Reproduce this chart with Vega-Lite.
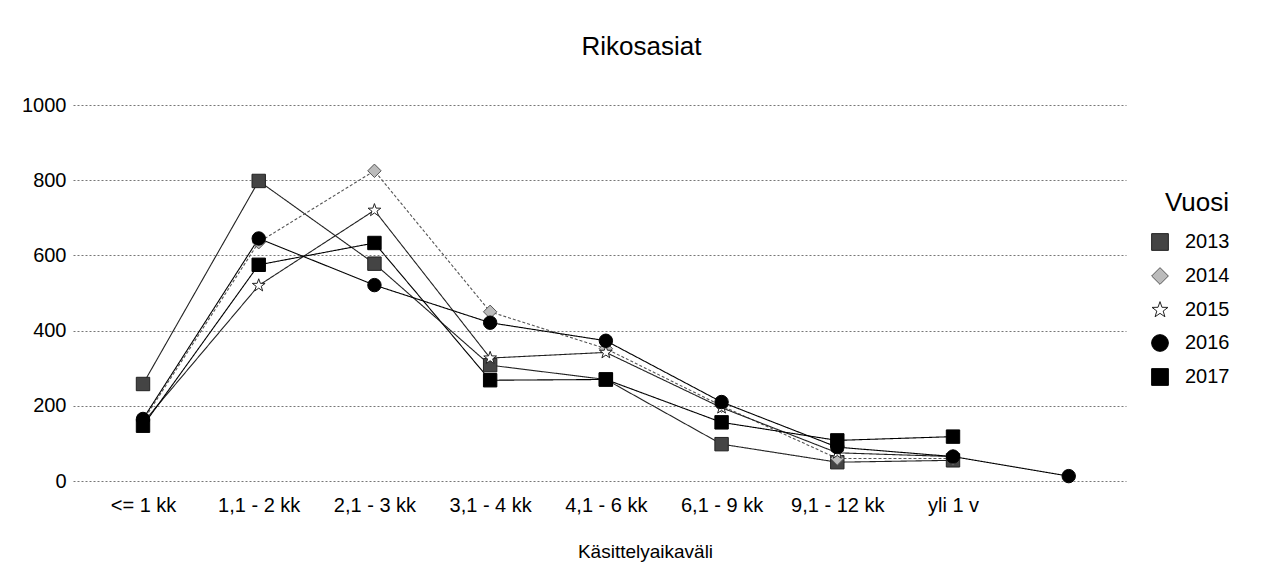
{
  "$schema": "https://vega.github.io/schema/vega-lite/v6.json",
  "width": 1053,
  "height": 376,
  "autosize": {"type": "none"},
  "padding": {"left": 73, "top": 105, "right": 140, "bottom": 81},
  "background": "white",
  "config": {
    "font": "Liberation Sans",
    "view": {"stroke": null},
    "axis": {"labelColor": "#000", "titleColor": "#000", "labelFont": "Liberation Sans", "titleFont": "Liberation Sans"},
    "legend": {
      "orient": "none",
      "legendX": 1077,
      "legendY": 85,
      "labelColor": "#000",
      "titleColor": "#000",
      "titleFontSize": 26,
      "titleFontWeight": "normal",
      "titleAnchor": "end",
      "titlePadding": 16,
      "labelFontSize": 20,
      "labelOffset": 15,
      "symbolSize": 280,
      "symbolStrokeWidth": 1,
      "rowPadding": 12,
      "padding": 0
    }
  },
  "title": {
    "text": "Rikosasiat",
    "fontSize": 26,
    "fontWeight": "normal",
    "color": "#000",
    "anchor": "middle",
    "frame": "group",
    "dx": 42,
    "offset": 35
  },
  "data": {
    "values": [
      {"Vuosi": "2013", "Kategoria": "<= 1 kk", "Arvo": 258},
      {"Vuosi": "2013", "Kategoria": "1,1 - 2 kk", "Arvo": 798},
      {"Vuosi": "2013", "Kategoria": "2,1 - 3 kk", "Arvo": 578},
      {"Vuosi": "2013", "Kategoria": "3,1 - 4 kk", "Arvo": 308},
      {"Vuosi": "2013", "Kategoria": "4,1 - 6 kk", "Arvo": 270},
      {"Vuosi": "2013", "Kategoria": "6,1 - 9 kk", "Arvo": 98},
      {"Vuosi": "2013", "Kategoria": "9,1 - 12 kk", "Arvo": 50},
      {"Vuosi": "2013", "Kategoria": "yli 1 v", "Arvo": 55},
      {"Vuosi": "2014", "Kategoria": "<= 1 kk", "Arvo": 160},
      {"Vuosi": "2014", "Kategoria": "1,1 - 2 kk", "Arvo": 635},
      {"Vuosi": "2014", "Kategoria": "2,1 - 3 kk", "Arvo": 825},
      {"Vuosi": "2014", "Kategoria": "3,1 - 4 kk", "Arvo": 450},
      {"Vuosi": "2014", "Kategoria": "4,1 - 6 kk", "Arvo": 352},
      {"Vuosi": "2014", "Kategoria": "6,1 - 9 kk", "Arvo": 200},
      {"Vuosi": "2014", "Kategoria": "9,1 - 12 kk", "Arvo": 60},
      {"Vuosi": "2014", "Kategoria": "yli 1 v", "Arvo": 60},
      {"Vuosi": "2015", "Kategoria": "<= 1 kk", "Arvo": 155},
      {"Vuosi": "2015", "Kategoria": "1,1 - 2 kk", "Arvo": 520},
      {"Vuosi": "2015", "Kategoria": "2,1 - 3 kk", "Arvo": 720},
      {"Vuosi": "2015", "Kategoria": "3,1 - 4 kk", "Arvo": 327},
      {"Vuosi": "2015", "Kategoria": "4,1 - 6 kk", "Arvo": 342},
      {"Vuosi": "2015", "Kategoria": "6,1 - 9 kk", "Arvo": 195},
      {"Vuosi": "2015", "Kategoria": "9,1 - 12 kk", "Arvo": 75},
      {"Vuosi": "2015", "Kategoria": "yli 1 v", "Arvo": 65},
      {"Vuosi": "2016", "Kategoria": "<= 1 kk", "Arvo": 165},
      {"Vuosi": "2016", "Kategoria": "1,1 - 2 kk", "Arvo": 645},
      {"Vuosi": "2016", "Kategoria": "2,1 - 3 kk", "Arvo": 521},
      {"Vuosi": "2016", "Kategoria": "3,1 - 4 kk", "Arvo": 421},
      {"Vuosi": "2016", "Kategoria": "4,1 - 6 kk", "Arvo": 373},
      {"Vuosi": "2016", "Kategoria": "6,1 - 9 kk", "Arvo": 210},
      {"Vuosi": "2016", "Kategoria": "9,1 - 12 kk", "Arvo": 90},
      {"Vuosi": "2016", "Kategoria": "yli 1 v", "Arvo": 65},
      {"Vuosi": "2016", "Kategoria": " ", "Arvo": 13},
      {"Vuosi": "2017", "Kategoria": "<= 1 kk", "Arvo": 147},
      {"Vuosi": "2017", "Kategoria": "1,1 - 2 kk", "Arvo": 575},
      {"Vuosi": "2017", "Kategoria": "2,1 - 3 kk", "Arvo": 633},
      {"Vuosi": "2017", "Kategoria": "3,1 - 4 kk", "Arvo": 268},
      {"Vuosi": "2017", "Kategoria": "4,1 - 6 kk", "Arvo": 270},
      {"Vuosi": "2017", "Kategoria": "6,1 - 9 kk", "Arvo": 156},
      {"Vuosi": "2017", "Kategoria": "9,1 - 12 kk", "Arvo": 108},
      {"Vuosi": "2017", "Kategoria": "yli 1 v", "Arvo": 118}
    ]
  },
  "encoding": {
    "x": {
      "field": "Kategoria",
      "type": "ordinal",
      "sort": ["<= 1 kk", "1,1 - 2 kk", "2,1 - 3 kk", "3,1 - 4 kk", "4,1 - 6 kk", "6,1 - 9 kk", "9,1 - 12 kk", "yli 1 v", " "],
      "scale": {"type": "point", "padding": 0.55, "align": 0.55},
      "axis": {
        "title": "Käsittelyaikaväli",
        "titleFontSize": 19,
        "titleFontWeight": "normal",
        "titleX": 572,
        "titleY": 76,
        "titleBaseline": "alphabetic",
        "titleAnchor": "middle",
        "labelAngle": 0,
        "labelFontSize": 20,
        "labelPadding": 14,
        "domain": false,
        "ticks": false,
        "grid": false
      }
    },
    "y": {
      "field": "Arvo",
      "type": "quantitative",
      "scale": {"domain": [0, 1000], "nice": false},
      "axis": {
        "title": null,
        "values": [0, 200, 400, 600, 800, 1000],
        "format": "d",
        "labelFontSize": 20,
        "labelPadding": 7,
        "domain": false,
        "ticks": false,
        "grid": true,
        "gridColor": "#777",
        "gridDash": [2, 2],
        "gridWidth": 1
      }
    }
  },
  "layer": [
    {
      "mark": {"type": "line", "strokeWidth": 1.1},
      "encoding": {
        "detail": {"field": "Vuosi", "type": "nominal"},
        "stroke": {
          "field": "Vuosi",
          "type": "nominal",
          "title": "Vuosi",
          "scale": {"domain": ["2013", "2014", "2015", "2016", "2017"], "range": ["#222", "#555", "#222", "#000", "#000"]}
        },
        "strokeDash": {
          "field": "Vuosi",
          "type": "nominal",
          "scale": {"range": [[1, 0], [3, 2], [1, 0], [1, 0], [1, 0]]},
          "legend": null
        }
      }
    },
    {
      "mark": {"type": "point", "filled": true, "size": 180, "strokeWidth": 1, "opacity": 1},
      "encoding": {
        "stroke": {
          "field": "Vuosi",
          "type": "nominal",
          "title": "Vuosi"
        },
        "shape": {
          "field": "Vuosi",
          "type": "nominal",
          "title": "Vuosi",
          "scale": {
            "domain": ["2013", "2014", "2015", "2016", "2017"],
            "range": ["square", "diamond", "M0,-1L0.235,-0.324L0.951,-0.309L0.38,0.124L0.588,0.809L0,0.4L-0.588,0.809L-0.38,0.124L-0.951,-0.309L-0.235,-0.324Z", "circle", "square"]
          }
        },
        "fill": {
          "field": "Vuosi",
          "type": "nominal",
          "title": "Vuosi",
          "scale": {"domain": ["2013", "2014", "2015", "2016", "2017"], "range": ["#444", "#bbb", "#fff", "#000", "#000"]}
        }
      }
    }
  ]
}
